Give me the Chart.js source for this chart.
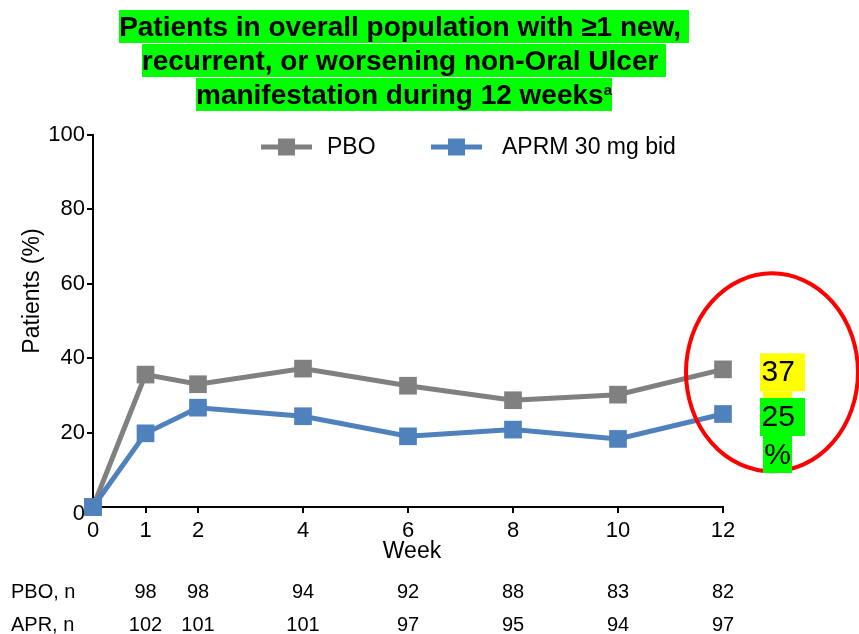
<!DOCTYPE html>
<html>
<head>
<meta charset="utf-8">
<script src="https://cdn.jsdelivr.net/npm/chart.js@4/dist/chart.umd.min.js"></script>
<style>
  html, body { margin: 0; padding: 0; background: #fff; }
  #wrap { position: relative; width: 859px; height: 634px; overflow: hidden; }
  #chart { position: absolute; left: 0; top: 0; }
  #title {
    position: absolute; left: 0; top: 10px; width: 808px;
    text-align: center; font-family: "Liberation Sans", Arial, sans-serif;
    font-weight: bold; font-size: 28px; color: #000;
  }
  #title .ln { display: block; height: 34px; }
  #title .ln span { display: inline-block; background: #00ff00; line-height: 33px; white-space: pre; }
  #title sup { font-size: 15px; vertical-align: 9px; line-height: 0; }
</style>
</head>
<body>
<div id="wrap">
  <canvas id="chart" width="859" height="634"></canvas>
  <div id="title">
    <div class="ln"><span>Patients in overall population with ≥1 new, </span></div>
    <div class="ln"><span>recurrent, or worsening non-Oral Ulcer </span></div>
    <div class="ln"><span>manifestation during 12 weeks<sup>a</sup></span></div>
  </div>
</div>
<script>
// Weeks on the x axis and percentage of patients per arm
const weeks = [0, 1, 2, 4, 6, 8, 10, 12];
const pboValues = [0, 35.6, 33, 37.2, 32.6, 28.7, 30.2, 37];
const aprmValues = [0, 19.8, 26.7, 24.4, 19, 20.8, 18.3, 25];
const yTicks = [0, 20, 40, 60, 80, 100];

// Patients at risk under the axis
const tableWeeks = [1, 2, 4, 6, 8, 10, 12];
const pboN = [98, 98, 94, 92, 88, 83, 82];
const aprN = [102, 101, 101, 97, 95, 94, 97];

const seriesNames = ['PBO', 'APRM 30 mg bid'];
const rowLabels = ['PBO, n', 'APR, n'];

const GRAY = '#808080';
const BLUE = '#4f81bd';
const FONT = '"Liberation Sans", Arial, sans-serif';

function toPoints(vals) { return weeks.map((w, i) => ({ x: w, y: vals[i] })); }

const extras = {
  id: 'extras',
  afterDraw(chart) {
    const ctx = chart.ctx;
    const xs = chart.scales.x, ys = chart.scales.y;
    ctx.save();

    // Y-axis origin label sits a little below the axis line
    ctx.fillStyle = '#000';
    ctx.font = '22px ' + FONT;
    ctx.textAlign = 'right';
    ctx.textBaseline = 'middle';
    ctx.fillText(String(yTicks[0]), ys.left + ys.width - 8, ys.getPixelForValue(yTicks[0]) + 7);

    // Legend: line with square marker
    const legend = [
      { color: GRAY, label: seriesNames[0], x0: 261, tx: 327 },
      { color: BLUE, label: seriesNames[1], x0: 431, tx: 502 }
    ];
    ctx.font = '23px ' + FONT;
    ctx.textBaseline = 'middle';
    ctx.textAlign = 'left';
    legend.forEach(l => {
      const ly = 147;
      ctx.strokeStyle = l.color; ctx.lineWidth = 5;
      ctx.beginPath(); ctx.moveTo(l.x0, ly); ctx.lineTo(l.x0 + 51, ly); ctx.stroke();
      ctx.fillStyle = l.color;
      ctx.fillRect(l.x0 + 25.5 - 8.5, ly - 8.5, 17, 17);
      ctx.fillStyle = '#000';
      ctx.fillText(l.label, l.tx, ly + 1);
    });

    // Axis titles
    ctx.fillStyle = '#000';
    ctx.font = '23px ' + FONT;
    ctx.textAlign = 'center';
    ctx.textBaseline = 'middle';
    ctx.save();
    ctx.translate(33, 291);
    ctx.rotate(-Math.PI / 2);
    ctx.fillText('Patients (%)', 0, 0);
    ctx.restore();
    ctx.fillText('Week', 412, 552);

    // Numbers at risk
    ctx.font = '20px ' + FONT;
    ctx.textAlign = 'left';
    ctx.fillText(rowLabels[0], 11, 592);
    ctx.fillText(rowLabels[1], 11, 625);
    ctx.textAlign = 'center';
    tableWeeks.forEach((w, i) => {
      const px = xs.getPixelForValue(w);
      ctx.fillText(String(pboN[i]), px, 592);
      ctx.fillText(String(aprN[i]), px, 625);
    });

    // End-of-study callout: red ring, then highlighted values on top
    const xEnd = xs.getPixelForValue(weeks[weeks.length - 1]);
    const pboEnd = pboValues[pboValues.length - 1];
    const aprEnd = aprmValues[aprmValues.length - 1];

    ctx.strokeStyle = '#ff0000';
    ctx.lineWidth = 4;
    ctx.beginPath();
    ctx.ellipse(xEnd + 49, ys.getPixelForValue(pboEnd) + 3, 86, 99, 0, 0, Math.PI * 2);
    ctx.stroke();

    const callouts = [
      { v: pboEnd, bg: '#ffff00' },
      { v: aprEnd, bg: '#00ff00' }
    ];
    ctx.font = '30px ' + FONT;
    ctx.textBaseline = 'alphabetic';
    callouts.forEach(c => {
      const top = ys.getPixelForValue(c.v) - 16;
      const bx = xEnd + 37;
      ctx.fillStyle = c.bg;
      ctx.fillRect(bx, top, 45, 38);
      ctx.fillRect(bx + 3, top + 38, 29, 37);
      ctx.fillStyle = '#000';
      ctx.textAlign = 'left';
      ctx.fillText(String(Math.round(c.v)), bx + 1.5, top + 28);
      ctx.textAlign = 'center';
      ctx.fillText('%', bx + 17.5, top + 66);
    });

    ctx.restore();
  }
};

new Chart(document.getElementById('chart'), {
  type: 'line',
  data: {
    datasets: [
      {
        label: seriesNames[0], data: toPoints(pboValues),
        borderColor: GRAY, backgroundColor: GRAY, borderWidth: 5,
        pointStyle: 'rect', pointRadius: 12.5, pointBorderWidth: 0,
        pointBackgroundColor: GRAY, clip: false, order: 1
      },
      {
        label: seriesNames[1], data: toPoints(aprmValues),
        borderColor: BLUE, backgroundColor: BLUE, borderWidth: 5,
        pointStyle: 'rect', pointRadius: 12.5, pointBorderWidth: 0,
        pointBackgroundColor: BLUE, clip: false, order: 0
      }
    ]
  },
  options: {
    responsive: false,
    animation: false,
    layout: { padding: { left: 0, top: 135, right: 136, bottom: 0 } },
    plugins: { legend: { display: false }, tooltip: { enabled: false } },
    scales: {
      x: {
        type: 'linear', min: 0, max: 12,
        afterBuildTicks: s => { s.ticks = weeks.map(v => ({ value: v })); },
        afterFit: s => { s.height = 127; },
        ticks: { autoSkip: false, maxRotation: 0, color: '#000', padding: 5,
                 font: { family: FONT, size: 22 } },
        grid: { drawOnChartArea: false, drawTicks: true, tickLength: 6, color: '#000', lineWidth: 2 },
        border: { color: '#000', width: 2 }
      },
      y: {
        min: 0, max: 100,
        afterBuildTicks: s => { s.ticks = yTicks.map(v => ({ value: v })); },
        afterFit: s => { s.width = 93; },
        ticks: { color: '#000', padding: 2, font: { family: FONT, size: 22 },
                 callback: v => (v === yTicks[0] ? '' : String(v)) },
        grid: { drawOnChartArea: false, drawTicks: true, tickLength: 6, color: '#000', lineWidth: 2 },
        border: { color: '#000', width: 2 }
      }
    }
  },
  plugins: [extras]
});
</script>
</body>
</html>
